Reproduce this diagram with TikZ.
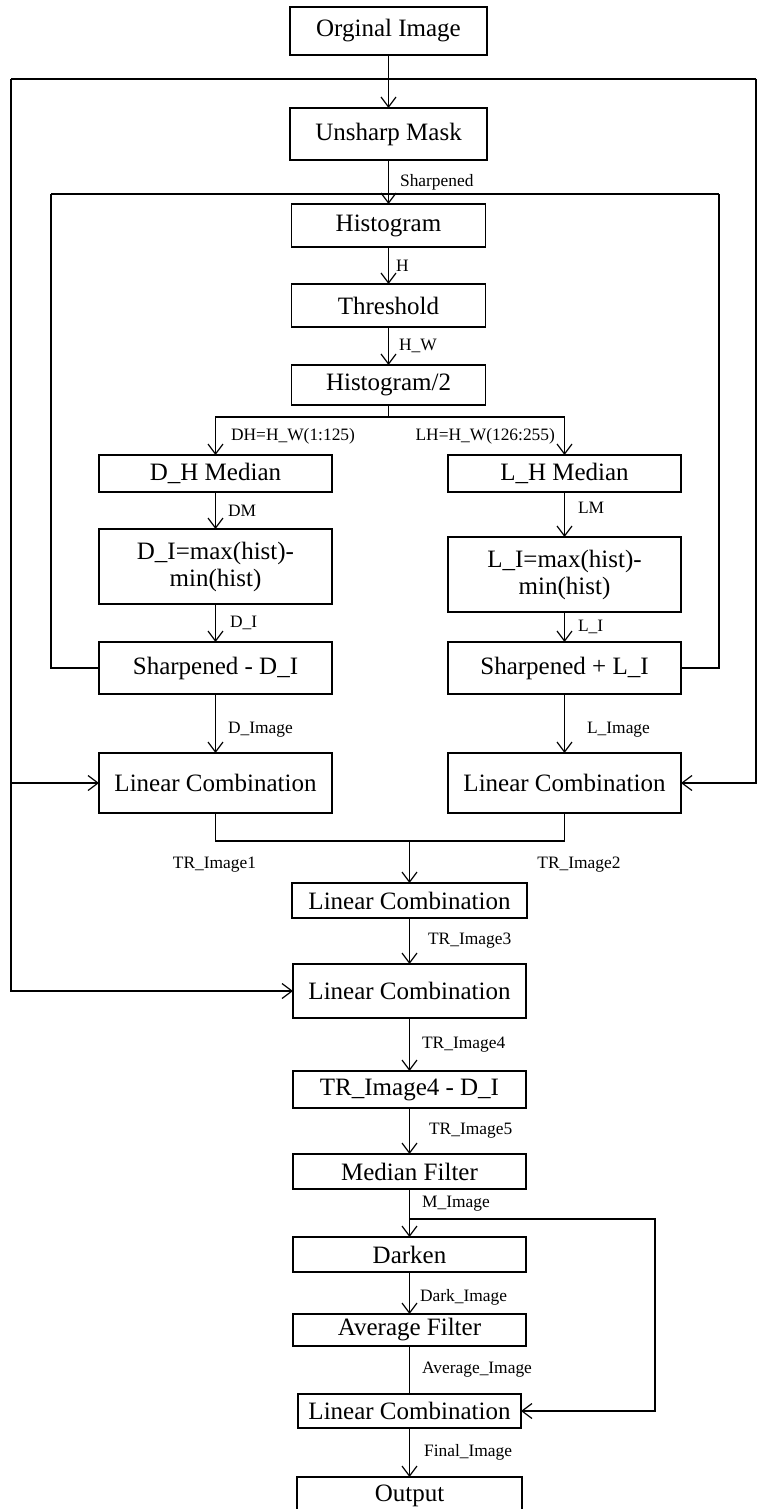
\documentclass[tikz,border=0pt]{standalone}
\usepackage{fontspec}
\setmainfont{Liberation Serif}
\usetikzlibrary{arrows.meta,positioning}
\newcommand{\boxfont}{\fontsize{12.5}{13.5}\selectfont}
\newcommand{\lblfont}{\fontsize{8.7}{10}\selectfont}
\tikzset{
  box/.style={draw, line width=0.6pt, outer sep=0pt, minimum width=116.5pt, minimum height=18pt, inner sep=1pt, align=center, font=\boxfont},
  lbl/.style={font=\lblfont, inner sep=1pt},
  line/.style={-{Straight Barb[length=5pt,width=7.5pt]}, line width=0.6pt},
  wire/.style={line width=0.6pt}
}

\begin{document}
\begin{tikzpicture}[x=0.5pt, y=-0.5pt]
  \useasboundingbox (0,0) rectangle (757,1509);

  % centre column
  \node[box, minimum width=98.5pt, minimum height=24pt] (orig) at (388.5,31) {Orginal Image};
  \node[box, minimum width=98.5pt, minimum height=26pt, below=26.5pt of orig] (unsharp) {Unsharp Mask};
  \node[box, minimum width=97pt, minimum height=21.5pt, below=22pt of unsharp] (hist) {Histogram};
  \node[box, minimum width=97pt, minimum height=21.5pt, below=18.5pt of hist] (thresh) {Threshold};
  \node[box, minimum width=97pt, minimum height=20pt, below=19pt of thresh] (hist2) {Histogram/2};

  % dark branch
  \node[box, minimum height=18.5pt] (dhm) at (215.5,473.5) {D\_H Median};
  \node[box, minimum height=37.5pt, below=18.5pt of dhm] (dimax) {D\_I=max(hist)-\\min(hist)};
  \node[box, minimum height=26pt, below=19pt of dimax] (sdi) {Sharpened - D\_I};
  \node[box, minimum height=30pt, below=29.5pt of sdi] (lcA) {Linear Combination};

  % light branch
  \node[box, minimum height=18.5pt] (lhm) at (564.5,473.5) {L\_H Median};
  \node[box, minimum height=37.5pt, below=22.5pt of lhm] (limax) {L\_I=max(hist)-\\min(hist)};
  \node[box, minimum height=26pt, below=15pt of limax] (sli) {Sharpened + L\_I};
  \node[box, minimum height=30pt, below=29.5pt of sli] (lcB) {Linear Combination};

  % lower column
  \node[box, minimum width=117.5pt, minimum height=17.5pt] (lcC) at (409.5,900.5) {Linear Combination};
  \node[box, minimum height=27pt, below=23pt of lcC] (lcD) {Linear Combination};
  \node[box, minimum height=18.5pt, below=26.5pt of lcD] (trd) {TR\_Image4 - D\_I};
  \node[box, minimum height=17.5pt, below=23pt of trd] (medf) {Median Filter};
  \node[box, minimum height=17.5pt, below=24pt of medf] (dark) {Darken};
  \node[box, minimum height=16pt, below=21pt of dark] (avgf) {Average Filter};
  \node[box, minimum width=111.5pt, minimum height=17pt, below=24pt of avgf] (lcE) {Linear Combination};
  \node[box, minimum width=112.5pt, minimum height=19pt, text height=10pt, text depth=5pt, below=24.5pt of lcE] (out) {Output};

  % junctions
  \coordinate (jtop) at (388.5,79);
  \coordinate (ltop) at (11,79);
  \coordinate (rtop) at (756,79);
  \coordinate (jin) at (388.5,194);
  \coordinate (lin) at (51,194);
  \coordinate (rin) at (719,194);
  \coordinate (split) at (388.5,417);
  \coordinate (mrg) at (409.5,841);
  \coordinate (jm) at (409.5,1219);
  \coordinate (rm) at (655,1219);

  % original image loop
  \draw[line] (orig) -- (unsharp);
  \draw[wire] (ltop) -- (rtop);
  \draw[line] (ltop) |- (lcD);
  \draw[line] (ltop |- lcA) -- (lcA);
  \draw[line] (rtop) |- (lcB);

  % sharpened loop
  \draw[line] (unsharp) -- node[lbl, right=4.5pt] {Sharpened} (hist);
  \draw[wire] (lin) -- (rin);
  \draw[wire] (lin) |- (sdi);
  \draw[wire] (rin) |- (sli);

  \draw[line] (hist) -- node[lbl, right=2.5pt] {H} (thresh);
  \draw[line] (thresh) -- node[lbl, right=4pt] {H\_W} (hist2);
  \draw[wire] (hist2) -- (split);
  \draw[line] (split) -| node[lbl, right=6.5pt, pos=0.75] {DH=H\_W(1:125)} (dhm);
  \draw[line] (split) -| node[lbl, left=3.5pt, pos=0.75] {LH=H\_W(126:255)} (lhm);

  \draw[line] (dhm) -- node[lbl, right=5pt] {DM} (dimax);
  \draw[line] (dimax) -- node[lbl, right=6pt] {D\_I} (sdi);
  \draw[line] (sdi) -- node[lbl, right=5pt, pos=0.6] {D\_Image} (lcA);
  \draw[line] (lhm) -- node[lbl, right=5.5pt, pos=0.35] {LM} (limax);
  \draw[line] (limax) -- node[lbl, right=5.5pt] {L\_I} (sli);
  \draw[line] (sli) -- node[lbl, right=10pt, pos=0.6] {L\_Image} (lcB);

  % merge
  \draw[wire] (lcA) |- (mrg);
  \draw[wire] (lcB) |- (mrg);
  \draw[line] (mrg) -- (lcC);
  \node[lbl] (tr1) at (214.5,865) {TR\_Image1};
  \node[lbl] (tr2) at (579,865) {TR\_Image2};

  \draw[line] (lcC) -- node[lbl, right=8pt] {TR\_Image3} (lcD);
  \draw[line] (lcD) -- node[lbl, right=5pt] {TR\_Image4} (trd);
  \draw[line] (trd) -- node[lbl, right=8.5pt] {TR\_Image5} (medf);
  \draw[line] (medf) -- node[lbl, right=5pt] {M\_Image} (jm) -- (dark);
  \draw[line] (jm) -- (rm) |- (lcE);
  \draw[line] (dark) -- node[lbl, right=4pt, pos=0.6] {Dark\_Image} (avgf);
  \draw[wire] (avgf) -- node[lbl, right=5pt] {Average\_Image} (lcE);
  \draw[line] (lcE) -- node[lbl, right=6pt] {Final\_Image} (out);
\end{tikzpicture}
\end{document}
